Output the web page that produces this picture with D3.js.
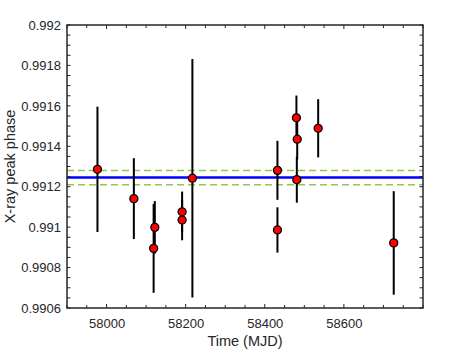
<!DOCTYPE html>
<html>
<head>
<meta charset="utf-8">
<script src="https://cdn.jsdelivr.net/npm/d3@7"></script>
<style>
  body { margin: 0; background: #fff; }
  text { font-family: "Liberation Sans", Arial, sans-serif; fill: #262626; }
</style>
</head>
<body>
<div class="chart"></div>
<script>
var totalWidth = 467;
var totalHeight = 350;

var margin = { top: 25, left: 67, bottom: 42, right: 44 };

var width = totalWidth - margin.left - margin.right;
var height = totalHeight - margin.top - margin.bottom;

// DATA
var times = [57977, 58069, 58122, 58119, 58191, 58191, 58217, 58432, 58432, 58480, 58482, 58481, 58535, 58726];
var phases = [0.991286, 0.991141, 0.990999, 0.990895, 0.991076, 0.991035, 0.991242, 0.991281, 0.990986, 0.991541, 0.991435, 0.991235, 0.991489, 0.990922];
var errors = [0.00031, 0.0002, 0.00013, 0.00022, 0.0001, 0.0001, 0.00059, 0.000146, 0.000112, 0.00011, 0.0001, 0.000114, 0.000144, 0.000256];

var meanPhase = 0.991245;
var meanErr = 0.000035;

var xTicks = [58000, 58200, 58400, 58600];
var yTicks = [0.9906, 0.9908, 0.991, 0.9912, 0.9914, 0.9916, 0.9918, 0.992];

var points = times.map(function(t, i) {
  return { t: t, p: phases[i], e: errors[i] };
});

// SCALES
var xScale = d3.scaleLinear().domain([57900, 58800]).range([0, width]);
var yScale = d3.scaleLinear().domain([0.9906, 0.992]).range([height, 0]);

var svg = d3.select(".chart").append("svg")
  .attr("width", totalWidth)
  .attr("height", totalHeight);

var g = svg.append("g")
  .attr("transform", "translate(" + margin.left + "," + margin.top + ")");

// mean line and band
g.selectAll(".band")
  .data([meanPhase + meanErr, meanPhase - meanErr])
  .enter().append("line")
  .attr("x1", 0).attr("x2", width)
  .attr("y1", function(d) { return yScale(d); })
  .attr("y2", function(d) { return yScale(d); })
  .attr("stroke", "#92c755")
  .attr("stroke-width", 1.6)
  .attr("stroke-dasharray", "7,4");

g.append("line")
  .attr("x1", 0).attr("x2", width)
  .attr("y1", yScale(meanPhase)).attr("y2", yScale(meanPhase))
  .attr("stroke", "#0000ff")
  .attr("stroke-width", 2.5);

// error bars
g.selectAll(".err")
  .data(points)
  .enter().append("line")
  .attr("x1", function(d) { return xScale(d.t); })
  .attr("x2", function(d) { return xScale(d.t); })
  .attr("y1", function(d) { return yScale(d.p + d.e); })
  .attr("y2", function(d) { return yScale(d.p - d.e); })
  .attr("stroke", "#000")
  .attr("stroke-width", 2);

g.selectAll(".pt")
  .data(points)
  .enter().append("circle")
  .attr("cx", function(d) { return xScale(d.t); })
  .attr("cy", function(d) { return yScale(d.p); })
  .attr("r", 4)
  .attr("fill", "#ff0000")
  .attr("stroke", "#000")
  .attr("stroke-width", 1.3);

// AXES (inward ticks, box)
var minorX = d3.range(57900, 58801, 50);
var minorY = d3.range(0, 29).map(function(i) { return 0.9906 + i * 0.00005; });

var xAxis = d3.axisBottom(xScale).tickValues(xTicks).tickSize(0).tickPadding(11).tickFormat(d3.format("d"));
var yAxis = d3.axisLeft(yScale).tickValues(yTicks).tickSize(0).tickPadding(6).tickFormat(function(d) { return +d.toFixed(4); });

var xAxisGroup = g.append("g")
  .attr("transform", "translate(0," + height + ")")
  .call(xAxis);
xAxisGroup.select(".domain").remove();
xAxisGroup.selectAll(".tick text").style("font-size", "13px").style("fill", "#262626");

var yAxisGroup = g.append("g").call(yAxis);
yAxisGroup.select(".domain").remove();
yAxisGroup.selectAll(".tick text").style("font-size", "13px").style("fill", "#262626");

var tickG = g.append("g").attr("stroke", "#262626").attr("stroke-width", 1);
minorX.forEach(function(v) {
  var len = xTicks.indexOf(v) >= 0 ? 4 : 3;
  tickG.append("line").attr("x1", xScale(v)).attr("x2", xScale(v)).attr("y1", height).attr("y2", height - len);
  tickG.append("line").attr("x1", xScale(v)).attr("x2", xScale(v)).attr("y1", 0).attr("y2", len);
});
minorY.forEach(function(v) {
  tickG.append("line").attr("x1", 0).attr("x2", 3.5).attr("y1", yScale(v)).attr("y2", yScale(v));
  tickG.append("line").attr("x1", width).attr("x2", width - 3.5).attr("y1", yScale(v)).attr("y2", yScale(v));
});

g.append("rect")
  .attr("width", width).attr("height", height)
  .attr("fill", "none")
  .attr("stroke", "#262626")
  .attr("stroke-width", 1.5);

// labels
g.append("text")
  .attr("x", width / 2)
  .attr("y", height + 38)
  .attr("text-anchor", "middle")
  .style("font-size", "14.5px")
  .text("Time (MJD)");

g.append("text")
  .attr("transform", "translate(" + (-52) + "," + (height / 2) + ") rotate(-90)")
  .attr("text-anchor", "middle")
  .style("font-size", "14.5px")
  .text("X-ray peak phase");
</script>
</body>
</html>
